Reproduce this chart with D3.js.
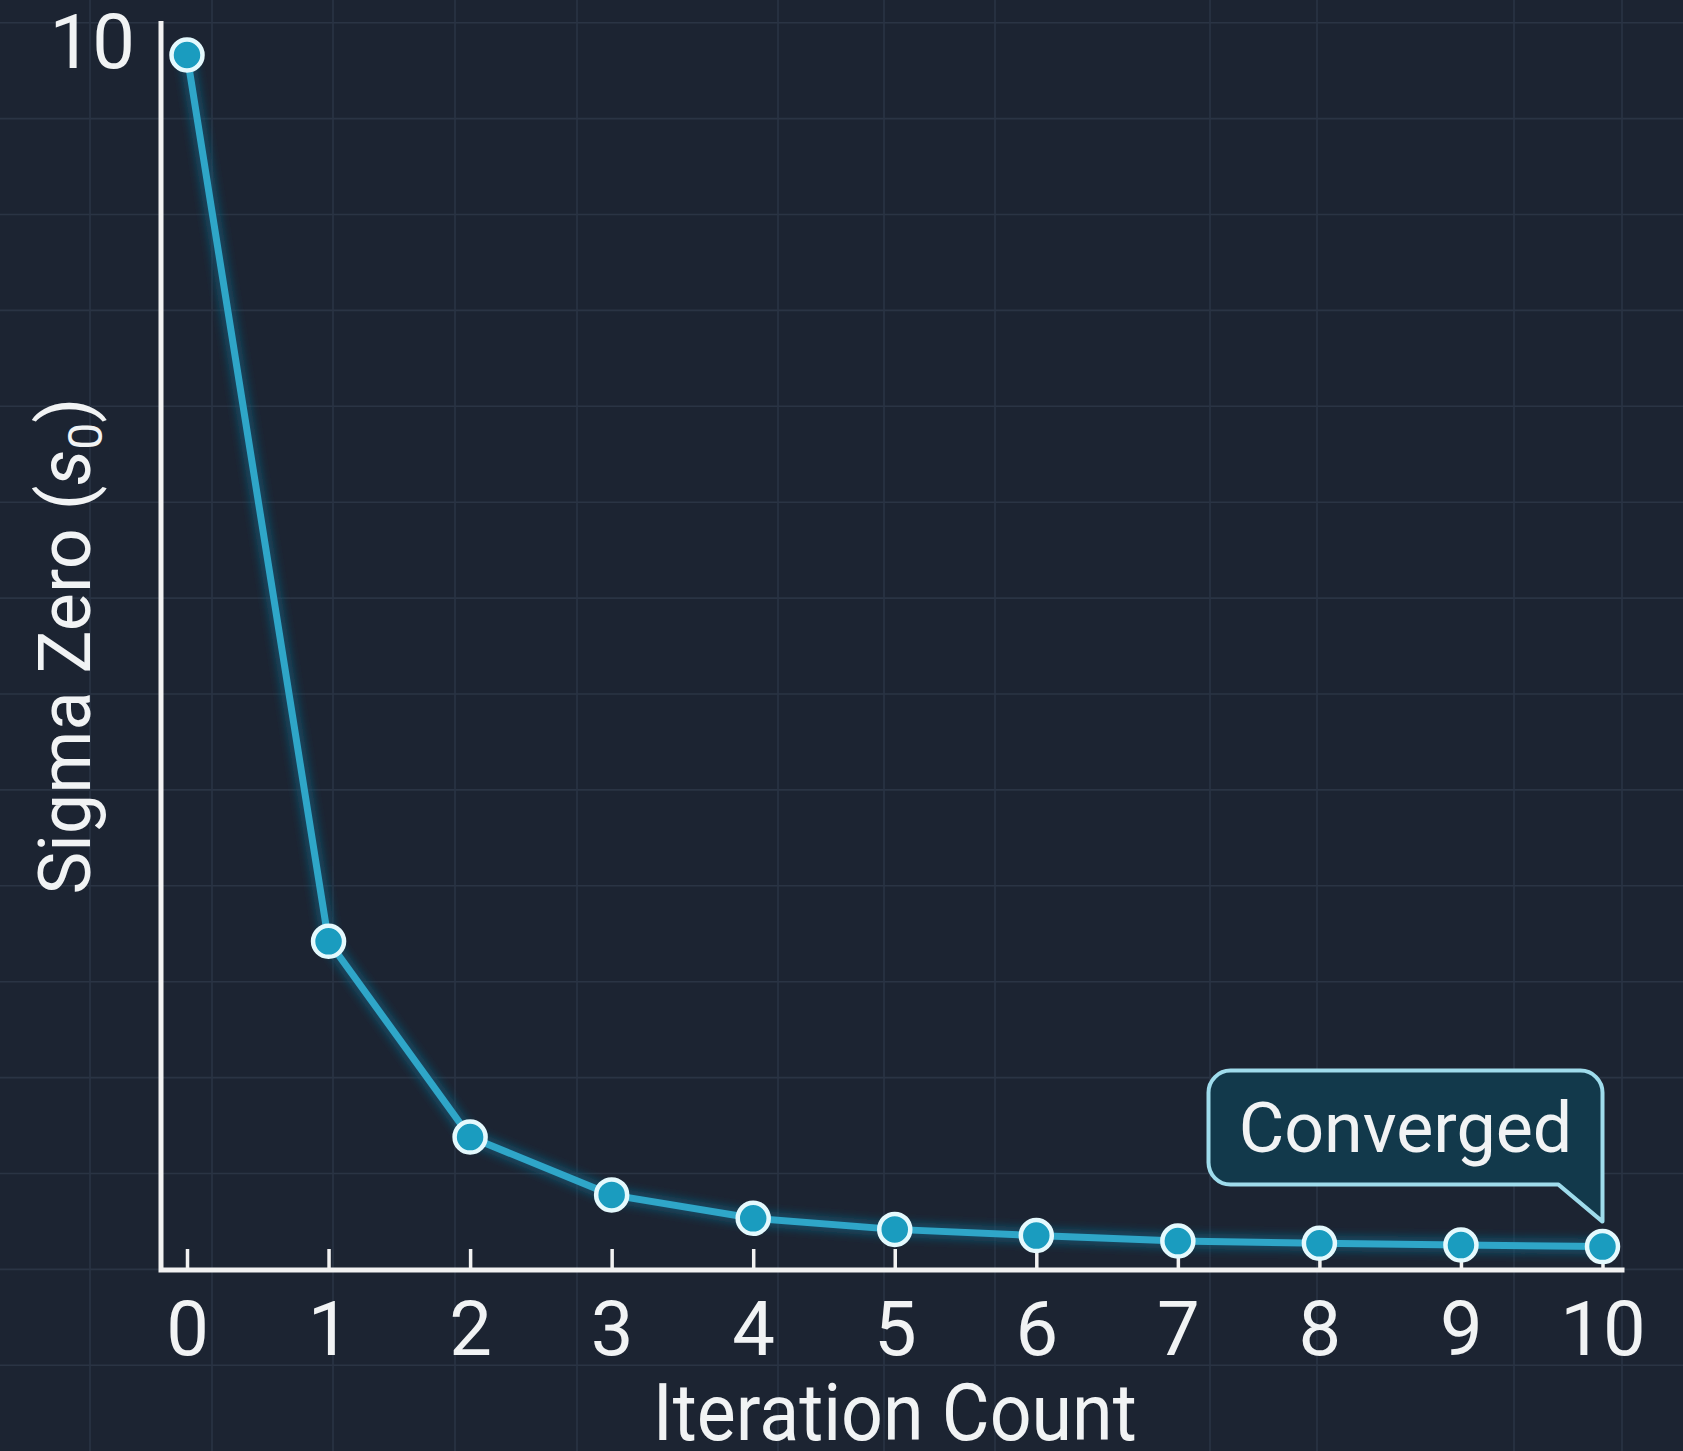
<!DOCTYPE html>
<html>
<head>
<meta charset="utf-8">
<script src="https://cdn.jsdelivr.net/npm/d3@7"></script>
<style>
  html, body { margin: 0; padding: 0; background: #1c2432; }
  svg { display: block; }
  text { font-family: Roboto, "Noto Sans", sans-serif; fill: #f1f3f4; }
</style>
</head>
<body>
<div id="chart"></div>
<script>
// data
const iterations = [0, 1, 2, 3, 4, 5, 6, 7, 8, 9, 10];
const sigmaZero = [9.87, 2.67, 1.08, 0.61, 0.42, 0.33, 0.28, 0.235, 0.217, 0.203, 0.19];
const xTickLabels = ['0', '1', '2', '3', '4', '5', '6', '7', '8', '9', '10'];
const yTickValues = [10];
const xTitle = 'Iteration Count';
const calloutText = 'Converged';

const width = 1683, height = 1451;
const margin = {top: 39, right: 80, bottom: 181, left: 187};

const svg = d3.select('#chart')
    .append('svg')
    .attr('width', width)
    .attr('height', height);

svg.append('rect')
    .attr('width', width)
    .attr('height', height)
    .attr('fill', '#1c2432');

// faint background grid
const grid = svg.append('g').attr('stroke', '#2a3444').attr('stroke-width', 1.6);
grid.selectAll('line.h')
    .data(d3.range(22.7, height, 95.9))
    .join('line')
        .attr('class', 'h')
        .attr('x1', 0).attr('x2', width)
        .attr('y1', d => d).attr('y2', d => d);
grid.selectAll('line.v')
    .data([90, 212, 333, 455, 577, 778, 884, 995, 1210, 1317, 1514, 1622])
    .join('line')
        .attr('class', 'v')
        .attr('y1', 0).attr('y2', height)
        .attr('x1', d => d).attr('x2', d => d);

const x = d3.scaleLinear()
    .domain([0, 10])
    .range([margin.left, width - margin.right - 0.5]);

const y = d3.scaleLinear()
    .domain([0, 10])
    .range([height - margin.bottom, margin.top]);

const axisX0 = margin.left - 26;   // where the y axis stands
const axisX1 = x(10) + 22;        // end of x axis line
const axisTop = 21;

// axis lines
svg.append('path')
    .attr('d', `M${axisX0},${axisTop}V${y(0)}H${axisX1}`)
    .attr('fill', 'none')
    .attr('stroke', '#f2f2f2')
    .attr('stroke-width', 5);

// x axis ticks + labels
const xAxis = svg.append('g')
    .attr('transform', `translate(0,${y(0)})`)
    .call(d3.axisBottom(x)
        .tickValues(iterations)
        .tickFormat((d, i) => xTickLabels[i])
        .tickSizeInner(-21)
        .tickSizeOuter(0)
        .tickPadding(60));
xAxis.select('.domain').remove();
xAxis.selectAll('.tick line').attr('stroke', '#f2f2f2').attr('stroke-width', 3.5);
xAxis.selectAll('.tick text')
    .attr('fill', '#f1f3f4')
    .attr('font-size', 76)
    .attr('dy', '0.71em')
    .attr('y', 31);

// y axis label (only 10)
const yAxis = svg.append('g')
    .attr('transform', `translate(${axisX0},0)`)
    .call(d3.axisLeft(y).tickValues(yTickValues).tickSize(0).tickPadding(26));
yAxis.select('.domain').remove();
yAxis.selectAll('.tick text')
    .attr('fill', '#f1f3f4')
    .attr('font-size', 76)
    .attr('dy', '0.37em');

// axis titles
svg.append('text')
    .attr('x', (x(0) + x(10)) / 2)
    .attr('y', 1440)
    .attr('text-anchor', 'middle')
    .attr('font-size', 80)
    .attr('textLength', 484)
    .attr('lengthAdjust', 'spacingAndGlyphs')
    .text(xTitle);

const yTitle = svg.append('text')
    .attr('transform', `translate(90,646) rotate(-90)`)
    .attr('text-anchor', 'middle')
    .attr('font-size', 72);
yTitle.append('tspan').text('Sigma Zero (');
yTitle.append('tspan').attr('font-style', 'italic').text('s');
yTitle.append('tspan').attr('font-size', 48).attr('dy', 12).text('0');
yTitle.append('tspan').attr('dy', -12).text(')');

// line with glow
const line = d3.line()
    .x((d, i) => x(iterations[i]))
    .y(d => y(d));

const defs = svg.append('defs');
defs.append('filter')
    .attr('id', 'glow')
    .attr('x', '-20%').attr('y', '-20%').attr('width', '140%').attr('height', '140%')
    .append('feGaussianBlur')
    .attr('stdDeviation', 4);

svg.append('path')
    .datum(sigmaZero)
    .attr('d', line)
    .attr('fill', 'none')
    .attr('stroke', '#0d5a78')
    .attr('stroke-width', 16)
    .attr('stroke-opacity', 0.7)
    .attr('filter', 'url(#glow)');

svg.append('path')
    .datum(sigmaZero)
    .attr('d', line)
    .attr('fill', 'none')
    .attr('stroke', '#2fa6c8')
    .attr('stroke-width', 7)
    .attr('stroke-linejoin', 'round');

svg.selectAll('circle.pt')
    .data(sigmaZero)
    .join('circle')
        .attr('class', 'pt')
        .attr('cx', (d, i) => x(iterations[i]))
        .attr('cy', d => y(d))
        .attr('r', 15.5)
        .attr('fill', '#1a9cbf')
        .attr('stroke', '#e4f9fd')
        .attr('stroke-width', 4.5);

// "Converged" callout pointing at the last point
const last = sigmaZero.length - 1;
const tipX = x(iterations[last]);
const tipY = y(sigmaZero[last]) - 25;
const boxR = tipX, boxL = tipX - 394, boxT = tipY - 151, boxB = tipY - 37, rad = 22;
const callout = svg.append('g');
callout.append('path')
    .attr('d', `M${boxL + rad},${boxT}H${boxR - rad}A${rad},${rad} 0 0 1 ${boxR},${boxT + rad}` +
               `V${tipY}L${boxR - 44},${boxB}H${boxL + rad}` +
               `A${rad},${rad} 0 0 1 ${boxL},${boxB - rad}V${boxT + rad}A${rad},${rad} 0 0 1 ${boxL + rad},${boxT}Z`)
    .attr('fill', '#12394b')
    .attr('stroke', '#9fdcec')
    .attr('stroke-width', 4)
    .attr('stroke-linejoin', 'round');
callout.append('text')
    .attr('x', (boxL + boxR) / 2)
    .attr('y', boxB - 33)
    .attr('text-anchor', 'middle')
    .attr('font-size', 70)
    .attr('fill', '#eaf8fb')
    .text(calloutText);
</script>
</body>
</html>
